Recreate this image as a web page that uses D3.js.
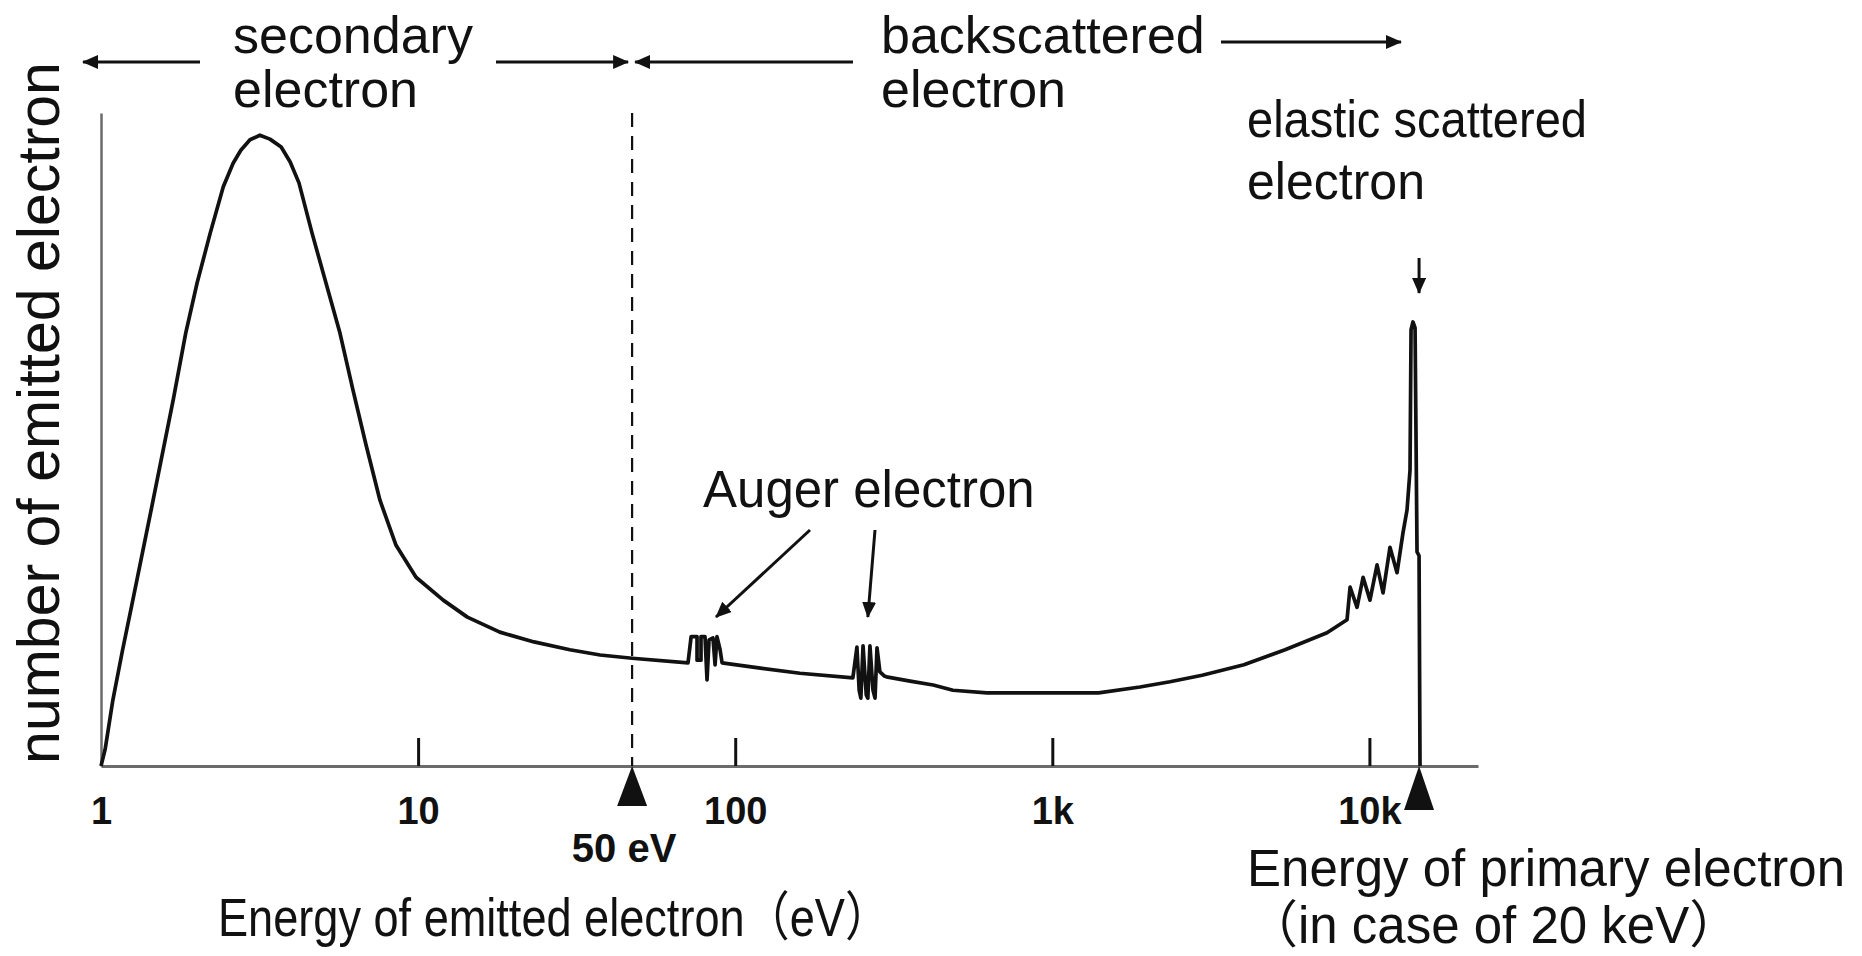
<!DOCTYPE html>
<html>
<head>
<meta charset="utf-8">
<script src="https://cdn.jsdelivr.net/npm/d3@7"></script>
<style>
  html, body { margin: 0; padding: 0; background: #fff; }
  svg { display: block; }
  text { font-family: "Liberation Sans", Arial, "Noto Sans CJK JP", sans-serif; fill: #111; }
</style>
</head>
<body>
<svg id="chart" width="1862" height="956"></svg>
<script>
// energy spectrum of emitted electrons (relative counts)
const energy = [1.00, 1.03, 1.09, 1.17, 1.26, 1.46, 1.69, 1.85, 2.01, 2.21, 2.43, 2.61, 2.76, 2.95, 3.17, 3.41, 3.70, 3.95, 4.21, 4.63,
  5.12, 5.67, 6.23, 6.85, 7.58, 8.52, 9.85, 12.0, 14.3, 18.1, 23.2, 30.1, 37.5, 47.3, 71.0,
  72.6, 75.8, 75.8, 78.0, 78.0, 80.3, 81.5, 82.7, 85.1, 86.4, 87.6, 89.6, 90.9,
  120, 160, 235,
  242, 246, 249, 253, 259, 262, 266, 272, 276, 280, 286, 295, 303,
  356, 421, 486, 622, 983, 1400, 1890, 2350, 2970, 4020, 5420, 7350, 8500,
  8690, 9140, 9550, 10040, 10570, 11040, 11610, 12220, 12760, 13140,
  13430, 13530, 13720, 13930, 14130, 14340, 14440];
const counts = [0, 2.5, 10.1, 17.8, 25.4, 40.7, 56.1, 66.3, 74.0, 81.6, 88.7, 92.3, 94.3, 95.9, 96.6, 96.0, 94.8, 92.5, 89.3, 81.6,
  74.0, 66.3, 57.6, 49.2, 40.7, 33.8, 28.9, 25.4, 22.8, 20.5, 19.0, 17.8, 17.0, 16.5, 15.8,
  19.8, 19.8, 16.2, 16.2, 19.8, 19.8, 13.2, 19.3, 19.6, 15.5, 19.8, 17.8, 15.8,
  15.0, 14.2, 13.5,
  18.2, 11.6, 10.4, 18.4, 10.9, 10.4, 18.4, 11.6, 10.4, 18.1, 14.4, 13.8, 13.6,
  13.0, 12.4, 11.6, 11.2, 11.2, 11.2, 12.1, 12.9, 13.9, 15.5, 17.8, 20.4, 22.4,
  27.4, 24.3, 28.9, 25.4, 30.8, 26.5, 33.5, 29.6, 35.7, 39.2,
  45.3, 66.8, 68.0, 67.1, 32.8, 32.2, 0];

const tickValues = [1, 10, 100, 1000, 10000];
const tickLabels = ["1", "10", "100", "1k", "10k"];

const thresholdEnergy = 47.3;   // "50 eV" boundary as drawn
const primaryEnergy = 14340;    // primary beam marker
const augerEnergies = [87, 262];

const svg = d3.select("#chart");
const font = '"Liberation Sans", Arial, "Noto Sans CJK JP", sans-serif';

const x = d3.scaleLog().domain([1, 22000]).range([101, 1478]);
const y = d3.scaleLinear().domain([0, 100]).range([766, 113]);

// arrow head
svg.append("defs").append("marker")
  .attr("id", "head")
  .attr("viewBox", "0 0 16 14")
  .attr("refX", 15).attr("refY", 7)
  .attr("markerWidth", 16).attr("markerHeight", 14)
  .attr("markerUnits", "userSpaceOnUse")
  .attr("orient", "auto")
  .append("path").attr("d", "M0,0 L16,7 L0,14 Z").attr("fill", "#111");

// axes
const xAxis = d3.axisBottom(x)
  .tickValues(tickValues)
  .tickFormat((d, i) => tickLabels[i])
  .tickSizeInner(-28).tickSizeOuter(0).tickPadding(31);

const gx = svg.append("g").attr("transform", "translate(0,766)").call(xAxis);
gx.select(".domain").attr("stroke", "#6b6b6b").attr("stroke-width", 3);
gx.selectAll(".tick line")
  .attr("stroke", "#111").attr("stroke-width", 3)
  .attr("display", d => d === 1 ? "none" : null);
gx.selectAll(".tick text")
  .attr("font-size", 38).attr("font-weight", "bold")
  .attr("font-family", font).attr("fill", "#111");

const gy = svg.append("g").attr("transform", "translate(101,0)")
  .call(d3.axisLeft(y).tickValues([]).tickSizeOuter(0));
gy.select(".domain").attr("stroke", "#6b6b6b").attr("stroke-width", 2.5);

// 50 eV dashed boundary
svg.append("line")
  .attr("x1", x(thresholdEnergy)).attr("x2", x(thresholdEnergy))
  .attr("y1", y(100)).attr("y2", y(0))
  .attr("stroke", "#111").attr("stroke-width", 2.2)
  .attr("stroke-dasharray", "14,9");

// spectrum
const line = d3.line().x(d => x(d[0])).y(d => y(d[1]));
svg.append("path")
  .datum(d3.zip(energy, counts))
  .attr("d", line)
  .attr("fill", "none")
  .attr("stroke", "#111")
  .attr("stroke-width", 3.7)
  .attr("stroke-linejoin", "round");

// markers under the axis
function triangle(cx, h, w) {
  return `M${cx},${y(0)} L${cx + w / 2},${y(0) + h} L${cx - w / 2},${y(0) + h} Z`;
}
svg.append("path").attr("d", triangle(x(thresholdEnergy), 40, 30)).attr("fill", "#111");
svg.append("path").attr("d", triangle(x(primaryEnergy), 44, 30)).attr("fill", "#111");

svg.append("text")
  .attr("x", x(thresholdEnergy) - 8).attr("y", 862)
  .attr("text-anchor", "middle")
  .attr("font-size", 40).attr("font-weight", "bold")
  .text("50 eV");

// arrows
function arrow(x1, y1, x2, y2) {
  svg.append("line")
    .attr("x1", x1).attr("y1", y1).attr("x2", x2).attr("y2", y2)
    .attr("stroke", "#111").attr("stroke-width", 3)
    .attr("marker-end", "url(#head)");
}
arrow(200, 62, 83, 62);
arrow(496, 62, x(thresholdEnergy) - 4, 62);
arrow(853, 62, x(thresholdEnergy) + 3, 62);
arrow(1221, 42, 1401, 42);
arrow(x(primaryEnergy), 258, x(primaryEnergy), 293);
arrow(810, 530, x(augerEnergies[0]), 617);
arrow(875, 530, x(augerEnergies[1]), 617);

// labels (width squeezed where the original lettering is narrower)
function label(tx, ty, str, size, len) {
  const t = svg.append("text").attr("x", tx).attr("y", ty)
    .attr("font-size", size).text(str);
  if (len) t.attr("textLength", len).attr("lengthAdjust", "spacingAndGlyphs");
}
label(233, 53, "secondary", 52);
label(233, 107, "electron", 52);
label(881, 53, "backscattered", 52);
label(881, 107, "electron", 52);
label(1247, 137, "elastic scattered", 52, 340);
label(1247, 199, "electron", 52, 178);
label(703, 507, "Auger electron", 51);
label(218, 936, "Energy of emitted electron（eV）", 53, 672);
label(1247, 886, "Energy of primary electron", 51);
label(1247, 943, "（in case of 20 keV）", 51);

svg.append("text")
  .attr("transform", "translate(59,413) rotate(-90)")
  .attr("text-anchor", "middle")
  .attr("font-size", 59)
  .text("number of emitted electron");
</script>
</body>
</html>
